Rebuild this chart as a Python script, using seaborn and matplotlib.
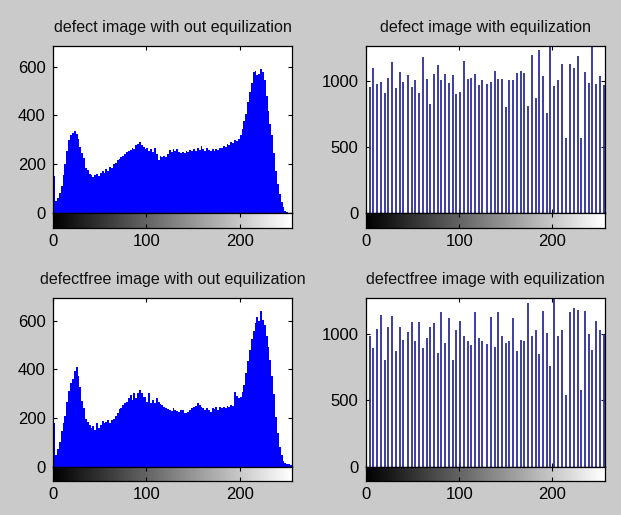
import numpy as np
import pandas as pd
import matplotlib
matplotlib.use("Agg")
import matplotlib.pyplot as plt
import seaborn as sns

# ---------------- data ----------------
titles = ["defect image with out equilization", "defect image with equilization",
          "defectfree image with out equilization", "defectfree image with equilization"]

# 2-level wide gray bins (left edges 0,2,...,254)
gray_bin_left = np.arange(0, 256, 2)

defect_raw = [150, 50, 62, 80, 110, 155, 200, 255, 300, 318, 330, 338, 325, 305, 272, 245,
              225, 185, 175, 160, 155, 145, 155, 158, 150, 162, 170, 165, 178, 172, 188, 185,
              200, 205, 215, 222, 228, 235, 240, 250, 255, 258, 265, 262, 278, 282, 292, 280,
              270, 262, 268, 255, 262, 250, 265, 240, 215, 232, 228, 235, 230, 242, 258, 250,
              262, 255, 262, 248, 245, 250, 245, 255, 250, 258, 252, 262, 255, 268, 258, 275,
              262, 255, 268, 258, 252, 262, 255, 262, 258, 268, 265, 275, 272, 282, 280, 290,
              288, 298, 295, 305, 318, 345, 378, 405, 455, 495, 535, 578, 585, 568, 572, 590,
              580, 545, 480, 420, 365, 318, 245, 172, 118, 75, 45, 22, 8, 2, 0, 0]

defectfree_raw = [180, 50, 72, 100, 145, 180, 210, 268, 312, 345, 362, 395, 410, 375, 330, 270,
                  240, 195, 185, 170, 160, 168, 150, 178, 160, 172, 190, 180, 186, 192, 178, 192,
                  195, 208, 222, 236, 240, 255, 262, 268, 282, 295, 276, 302, 282, 302, 316, 302,
                  285, 288, 268, 302, 262, 275, 262, 282, 268, 258, 254, 245, 240, 236, 234, 228,
                  240, 234, 230, 227, 234, 232, 222, 220, 227, 232, 240, 244, 250, 261, 252, 247,
                  240, 234, 240, 232, 227, 240, 236, 245, 234, 247, 240, 247, 240, 248, 245, 254,
                  250, 309, 290, 282, 285, 309, 336, 384, 433, 481, 525, 560, 590, 615, 600, 640,
                  605, 584, 536, 494, 440, 375, 300, 206, 137, 82, 50, 25, 14, 11, 11, 8]

eq_levels = [0, 4, 8, 12, 16, 20, 24, 28, 32, 36, 40, 45, 49, 53, 57, 61,
             65, 69, 73, 77, 81, 85, 89, 93, 97, 101, 105, 109, 113, 117, 121, 125,
             130, 134, 138, 142, 146, 150, 154, 158, 162, 166, 170, 174, 178, 182, 186, 190,
             194, 198, 202, 206, 210, 215, 219, 223, 227, 231, 235, 239, 243, 247, 251, 255]

defect_eq = [1000, 955, 1100, 973, 992, 908, 1020, 1139, 943, 1063, 993, 1045, 956, 1005, 910, 1178,
             1013, 820, 1052, 1120, 1005, 1048, 982, 1043, 899, 914, 1152, 1015, 1023, 1053, 965, 1003,
             975, 990, 1071, 1013, 1013, 800, 1003, 1003, 1058, 1071, 1058, 810, 1197, 868, 1235, 1033,
             754, 1263, 957, 1003, 1129, 565, 1129, 1096, 1190, 565, 1063, 982, 1262, 975, 1033, 965]

defectfree_eq = [1000, 990, 897, 1040, 1146, 809, 1053, 1136, 877, 1053, 957, 1020, 1090, 945, 1090, 897,
                 972, 1053, 1083, 857, 1166, 935, 1126, 809, 1028, 1098, 990, 945, 915, 1166, 972, 945,
                 927, 1128, 907, 1171, 990, 935, 945, 1121, 877, 960, 952, 1234, 985, 1028, 847, 1173,
                 1010, 759, 1271, 985, 1028, 540, 1171, 1196, 1186, 576, 1173, 1003, 884, 1096, 1028, 1003]

raw_yticks = [0, 200, 400, 600]
eq_yticks = [0, 500, 1000]
x_ticks = [0, 100, 200]

# ---------------- style ----------------
sns.set_style("white")
plt.rcParams["font.family"] = ["Liberation Sans", "DejaVu Sans"]

W, H = 621, 515
fig = plt.figure(figsize=(W / 100, H / 100), dpi=100)
fig.patch.set_facecolor("#cacaca")

XMAX = 256.5
panels = [
    # (left px, top px, bottom px (y=0), cbar bottom px, kind, data, ylim)
    (53.3, 46.0, 212.7, 228.0, "raw", defect_raw, 686),
    (366.0, 46.0, 212.7, 228.0, "eq", defect_eq, 1263),
    (53.3, 298.3, 466.7, 481.0, "raw", defectfree_raw, 693),
    (366.0, 298.3, 466.7, 481.0, "eq", defectfree_eq, 1271),
]
AXW = 239.0

gradient = np.linspace(0, 1, 256)[None, :]

for (lpx, tpx, bpx, cbpx, kind, vals, ytop), title in zip(panels, titles):
    ax = fig.add_axes([lpx / W, 1 - bpx / H, AXW / W, (bpx - tpx) / H])
    ax.set_facecolor("white")
    if kind == "raw":
        df = pd.DataFrame({"level": gray_bin_left + 1.0, "count": np.asarray(vals, float)})
        sns.histplot(data=df, x="level", weights="count", binwidth=2, binrange=(0, 256),
                     element="step", fill=True, color="#0000ff", alpha=1, linewidth=0,
                     ax=ax)
        ax.set_yticks(raw_yticks)
    else:
        df = pd.DataFrame({"level": eq_levels, "count": vals})
        ax.vlines(df["level"], 0, df["count"], color="#2e2e9c", linewidth=1.3)
        ax.set_yticks(eq_yticks)
    ax.set_xlim(0, XMAX)
    ax.set_ylim(0, ytop)
    ax.set_xticks(x_ticks)
    ax.set_xticklabels([])
    ax.set_xlabel("")
    ax.set_ylabel("")
    ax.tick_params(axis="both", direction="in", length=3, width=0.8, top=True, right=True,
                   bottom=True, left=True, labelsize=12, pad=5.5, colors="black")
    for s in ax.spines.values():
        s.set_visible(True)
        s.set_color("black")
        s.set_linewidth(0.9)
    ax.set_title(title, fontsize=11.6, pad=10, color="#111111")

    # gray-level colour bar below
    cax = fig.add_axes([lpx / W, 1 - cbpx / H, AXW / W, (cbpx - bpx) / H])
    cax.imshow(gradient, cmap="gray", aspect="auto", extent=[0, 255, 0, 1],
               interpolation="bilinear")
    cax.set_xlim(0, XMAX)
    cax.set_ylim(0, 1)
    cax.set_yticks([])
    cax.set_xticks(x_ticks)
    cax.set_xticklabels([str(t) for t in x_ticks])
    cax.tick_params(axis="x", direction="in", length=3, width=0.8, top=True, bottom=True,
                    labelsize=12, pad=4.0, colors="black")
    for s in cax.spines.values():
        s.set_visible(True)
        s.set_color("black")
        s.set_linewidth(0.9)

fig.savefig("out.png", dpi=100, facecolor=fig.get_facecolor())
